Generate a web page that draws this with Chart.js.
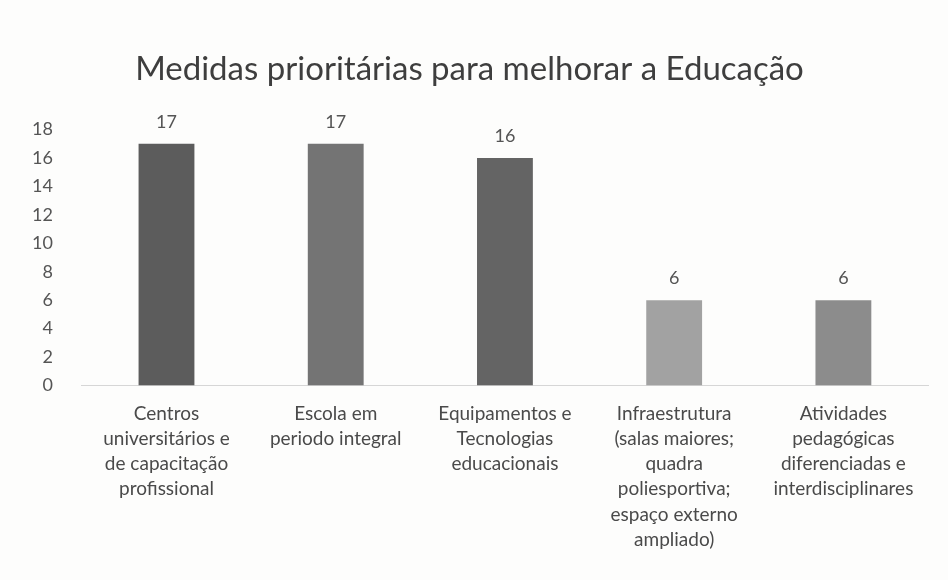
<!DOCTYPE html>
<html>
<head>
<meta charset="utf-8">
<script src="https://cdn.jsdelivr.net/npm/chart.js@4/dist/chart.umd.min.js"></script>
<style>
    html, body { margin: 0; padding: 0; background: #fdfdfc; }
    #wrap { width: 948px; height: 580px; }
</style>
</head>
<body>
<div id="wrap"><canvas id="grafico"></canvas></div>
<script>
const categorias = [
    ["Centros", "universitários e", "de capacitação", "profissional"],
    ["Escola em", "periodo integral"],
    ["Equipamentos e", "Tecnologias", "educacionais"],
    ["Infraestrutura", "(salas maiores;", "quadra", "poliesportiva;", "espaço externo", "ampliado)"],
    ["Atividades", "pedagógicas", "diferenciadas e", "interdisciplinares"]
];
const votos = [17, 17, 16, 6, 6];
const tonsBarras = ["#5c5c5c", "#747474", "#646464", "#a2a2a2", "#8c8c8c"];
const ticksY = [0, 2, 4, 6, 8, 10, 12, 14, 16, 18];

const fonte = "Lato, 'Open Sans', sans-serif";

// valor escrito acima de cada barra
const rotuloValores = {
    id: "rotuloValores",
    afterDatasetsDraw(chart) {
        const ctx = chart.ctx;
        const meta = chart.getDatasetMeta(0);
        ctx.save();
        ctx.font = "18px " + fonte;
        ctx.fillStyle = "#555";
        ctx.textAlign = "center";
        ctx.textBaseline = "bottom";
        meta.data.forEach((bar, i) => {
            ctx.fillText(String(votos[i]), bar.x, bar.y - 13);
        });
        ctx.restore();
    }
};

new Chart(document.getElementById("grafico"), {
    type: "bar",
    data: {
        labels: categorias,
        datasets: [
            {
                label: "Votos",
                data: votos,
                backgroundColor: tonsBarras,
                categoryPercentage: 1,
                barPercentage: 0.33
            }
        ]
    },
    options: {
        responsive: true,
        maintainAspectRatio: false,
        animation: false,
        layout: {
            padding: { left: 11, right: 20, top: 0, bottom: 20 }
        },
        plugins: {
            legend: { display: false },
            tooltip: { enabled: false },
            title: {
                display: true,
                text: "Medidas prioritárias para melhorar a Educação",
                color: "#3e3e3e",
                font: { family: fonte, size: 33, weight: "normal" },
                padding: { top: 50, bottom: 40 }
            }
        },
        scales: {
            y: {
                min: 0,
                max: 18,
                afterBuildTicks: (axis) => { axis.ticks = ticksY.map(v => ({ value: v })); },
                grid: { display: false },
                border: { display: false },
                ticks: {
                    color: "#555",
                    padding: 21,
                    font: { family: fonte, size: 18 }
                }
            },
            x: {
                grid: { display: false },
                border: { color: "#d6d6d6", width: 1 },
                ticks: {
                    color: "#4a4a4a",
                    maxRotation: 0,
                    autoSkip: false,
                    padding: 8,
                    font: { family: fonte, size: 19, lineHeight: 1.32 }
                }
            }
        }
    },
    plugins: [rotuloValores]
});
</script>
</body>
</html>
